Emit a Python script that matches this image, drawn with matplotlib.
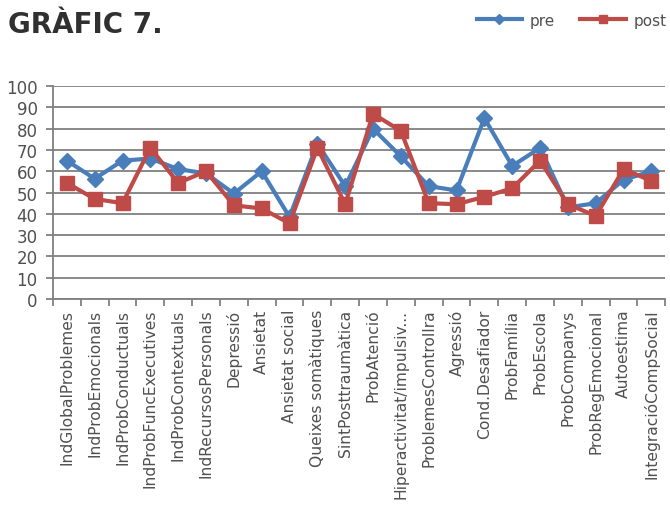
import numpy as np
from matplotlib import pyplot as plt

categories = ['IndGlobalProblemes', 'IndProbEmocionals', 'IndProbConductuals',
              'IndProbFuncExecutives', 'IndProbContextuals', 'IndRecursosPersonals',
              'Depressió', 'Ansietat', 'Ansietat social', 'Queixes somàtiques',
              'SintPosttraumàtica', 'ProbAtenció', 'Hiperactivitat/impulsiv...',
              'ProblemesControlIra', 'Agressió', 'Cond.Desafiador', 'ProbFamília',
              'ProbEscola', 'ProbCompanys', 'ProbRegEmocional', 'Autoestima',
              'IntegracióCompSocial']
pre = [65, 56.5, 65, 66, 61, 59, 49.5, 60, 38.5, 73, 53, 80, 67, 53, 51, 85,
       62.5, 71, 43, 45, 56, 60]
post = [54.5, 47, 45, 71, 54.5, 60, 44, 42.5, 35.5, 71, 44.5, 87, 79, 45, 44.5,
        48, 52, 65, 44.5, 39, 61, 55.5]

grey = '#808080'
text_col = '#505050'

fig = plt.figure(figsize=(6.7, 5.1), dpi=100)
ax = fig.add_axes([0.079, 0.412, 0.914, 0.417])

x = np.arange(len(categories))
ax.plot(x, pre, color='#4A7EBB', lw=3, marker='D', ms=8, label='pre', zorder=3)
ax.plot(x, post, color='#BE4B48', lw=3, marker='s', ms=10, label='post', zorder=3)

ax.set_xlim(-0.5, len(categories) - 0.5)
ax.set_ylim(0, 100)
ax.set_yticks(range(0, 101, 10))
ax.grid(axis='y', color=grey, lw=1.3)
ax.set_axisbelow(True)

ax.set_xticks(x)
ax.set_xticklabels(categories, rotation=90, fontsize=11.2, color=text_col)
ax.set_xticks(np.arange(-0.5, len(categories)), minor=True)
ax.tick_params(axis='x', which='major', length=0, pad=7)
ax.tick_params(axis='x', which='minor', length=5, color=grey, width=1.3)
ax.tick_params(axis='y', length=5, color=grey, width=1.3, labelsize=12,
               labelcolor=text_col, pad=6)

for s in ['top', 'right']:
    ax.spines[s].set_visible(False)
for s in ['left', 'bottom']:
    ax.spines[s].set_color(grey)
    ax.spines[s].set_linewidth(1.3)

fig.text(0.012, 0.935, 'GRÀFIC 7.', fontsize=20, fontweight='bold', color='#303030')
fig.legend(loc='upper right', bbox_to_anchor=(1.015, 1.0), ncol=2, frameon=False,
           fontsize=11, handlelength=3.0, handletextpad=0.5, columnspacing=1.6,
           markerscale=0.6, labelcolor=text_col)

fig.savefig('out.png', dpi=100)
